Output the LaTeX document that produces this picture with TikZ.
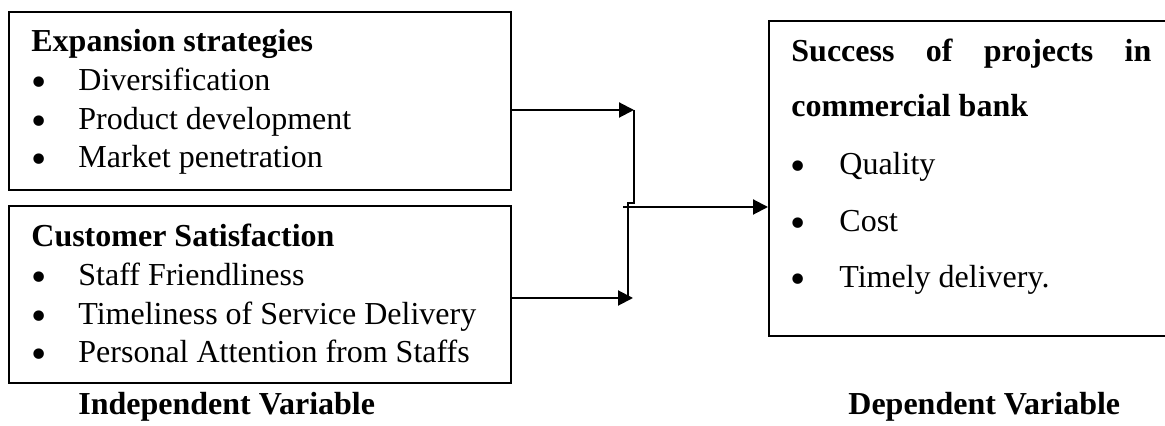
\documentclass[tikz,border=0pt]{standalone}
\usepackage{fontspec}
\setmainfont{Liberation Serif}
\newfontfamily\bulletfont{DejaVu Sans}
\usetikzlibrary{fit,arrows.meta}
\begin{document}
\begin{tikzpicture}[x=0.5pt,y=-0.5pt,
  box/.style={draw, line width=1pt, inner sep=0pt},
  txt/.style={anchor=base west, inner sep=0pt, font=\fontsize{16}{19}\selectfont},
  head/.style={txt, font=\fontsize{16}{19}\selectfont\bfseries},
  bul/.style={anchor=base, inner sep=0pt, font=\bulletfont\fontsize{18}{18}\selectfont},
  arr/.style={line width=1pt, -{Triangle[length=7.5pt,width=7.5pt]}},
  link/.style={line width=0.7pt}
]
\useasboundingbox (0,0) rectangle (1165,426);

% boxes
\node[box, fit={(9,12) (511,190)}] (exp) {};
\node[box, fit={(9,206) (511,383)}] (cus) {};
\node[box, fit={(769,21) (1168,336)}] (suc) {};

% expansion strategies
\node[head] (h1) at (31,52) {Expansion strategies};
\node[bul] (b11) at (39,96) {•};
\node[txt] (t11) at (78,91) {Diversification};
\node[bul] (b12) at (39,135) {•};
\node[txt] (t12) at (78,130) {Product development};
\node[bul] (b13) at (39,173) {•};
\node[txt] (t13) at (78,168) {Market penetration};

% customer satisfaction
\node[head] (h2) at (31,247) {Customer Satisfaction};
\node[bul] (b21) at (39,291) {•};
\node[txt] (t21) at (78,286) {Staff Friendliness};
\node[bul] (b22) at (39,330) {•};
\node[txt] (t22) at (78,325) {Timeliness of Service Delivery};
\node[bul] (b23) at (39,368) {•};
\node[txt] (t23) at (78,363) {Personal Attention from Staffs};

% success of projects
\node[head] (h3) at (791,62) {\makebox[180pt][s]{Success of projects in}};
\node[head] (h3b) at (791,117) {commercial bank};
\node[bul] (b31) at (798,180) {•};
\node[txt] (t31) at (839,175) {Quality};
\node[bul] (b32) at (798,237) {•};
\node[txt] (t32) at (839,232) {Cost};
\node[bul] (b33) at (798,293) {•};
\node[txt] (t33) at (839,288) {Timely delivery.};

% captions
\node[head] (iv) at (78,415) {Independent Variable};
\node[head] (dv) at (848,415) {Dependent Variable};

% connectors
\coordinate (t) at (634,110);
\coordinate (b) at (633,298);
\coordinate (k1) at (634,203);
\coordinate (k2) at (628,203);
\coordinate (k3) at (628,298);
\coordinate (m) at (623,207);

\draw[arr] (exp.east |- t) -- (t);
\draw[arr] (cus.east |- b) -- (b);
\draw[link] (t) -- (k1) -- (k2) -- (k3);
\draw[arr] (m) -- (m -| suc.west);
\end{tikzpicture}
\end{document}
